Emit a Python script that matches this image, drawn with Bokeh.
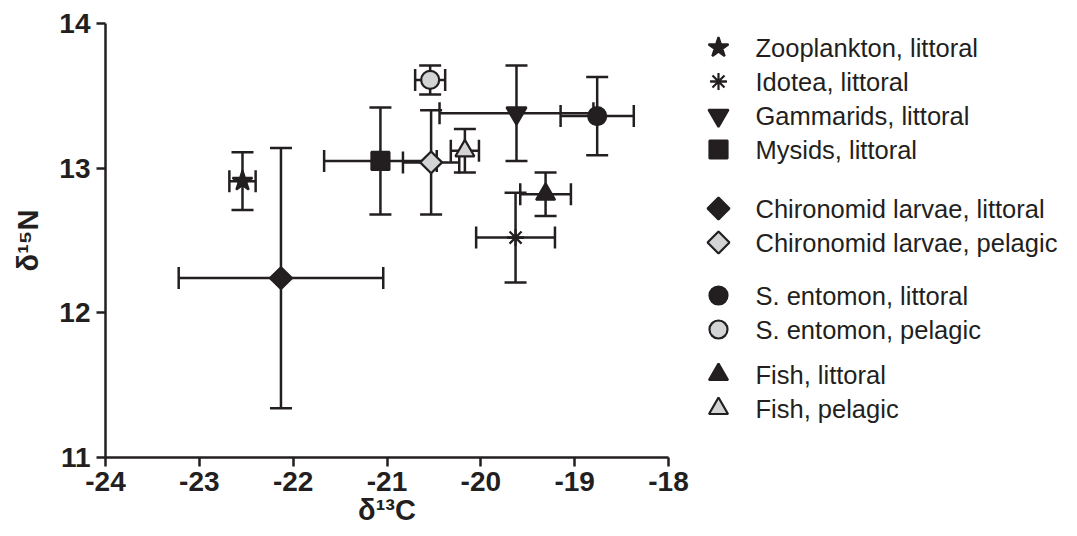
import math
from bokeh.plotting import figure
from bokeh.models import ColumnDataSource, Whisker, TeeHead, Range1d, FixedTicker
from bokeh.layouts import row
from bokeh.embed import file_html
from bokeh.resources import INLINE
from bokeh.core.properties import value

# ---------------- data ----------------
names = ["Zooplankton, littoral", "Idotea, littoral", "Gammarids, littoral", "Mysids, littoral",
         "Chironomid larvae, littoral", "Chironomid larvae, pelagic",
         "S. entomon, littoral", "S. entomon, pelagic",
         "Fish, littoral", "Fish, pelagic"]
legend_group = [0, 0, 0, 0, 1, 1, 2, 2, 3, 3]
d13c = [-22.54, -19.63, -19.62, -21.07, -22.13, -20.53, -18.76, -20.54, -19.31, -20.17]
d13c_err = [0.14, 0.42, 0.82, 0.60, 1.09, 0.30, 0.39, 0.16, 0.27, 0.15]
d15n = [12.91, 12.52, 13.38, 13.05, 12.24, 13.04, 13.36, 13.61, 12.82, 13.12]
d15n_err = [0.20, 0.31, 0.33, 0.37, 0.90, 0.36, 0.27, 0.10, 0.15, 0.15]
x_ticks = [-24, -23, -22, -21, -20, -19, -18]
x_tick_labels = ["-24", "-23", "-22", "-21", "-20", "-19", "-18"]
y_ticks = [11, 12, 13, 14]
y_tick_labels = ["11", "12", "13", "14"]
x_title = "δ¹³C"
y_title = "δ¹⁵N"

# ---------------- styles ----------------
INK = "#231f20"
GREY = "#d3d4d5"
markers = ["star", "asterisk", "inverted_triangle", "square", "square", "square",
           "circle", "circle", "triangle", "triangle"]
fills = [INK, INK, INK, INK, INK, GREY, INK, GREY, INK, GREY]
sizes = [21, 17, 20, 18, 15.5, 15.5, 18, 18, 19, 19]
angles = [0, 0, 0, 0, math.pi / 4, math.pi / 4, 0, 0, 0, 0]
FONT = "Liberation Sans"


def draw_marker(fig, x, y, k):
    if markers[k] == "asterisk":
        fig.scatter([x], [y], marker="asterisk", size=sizes[k], line_color=INK, line_width=2.2)
        fig.scatter([x], [y], marker="dash", size=sizes[k] * 0.95, line_color=INK, line_width=2.2)
    else:
        fig.scatter([x], [y], marker=markers[k], size=sizes[k], angle=angles[k],
                    fill_color=fills[k], line_color=INK, line_width=2.2)


# ---------------- main plot ----------------
# frame: page x 105..668, page y 23..457
p = figure(width=690, height=536, x_range=Range1d(-24, -18), y_range=Range1d(11, 14),
           toolbar_location=None, output_backend="svg",
           min_border_left=105, min_border_right=22, min_border_top=23, min_border_bottom=79)
p.outline_line_color = None
p.grid.visible = False

src = ColumnDataSource(dict(
    x=d13c, y=d15n,
    xl=[a - b for a, b in zip(d13c, d13c_err)], xu=[a + b for a, b in zip(d13c, d13c_err)],
    yl=[a - b for a, b in zip(d15n, d15n_err)], yu=[a + b for a, b in zip(d15n, d15n_err)],
))


def tee():
    return TeeHead(size=22, line_width=2.5, line_color=INK)


wy = Whisker(source=src, base="x", lower="yl", upper="yu", dimension="height",
             line_width=2.5, line_color=INK, upper_head=tee(), lower_head=tee(), level="underlay")
wx = Whisker(source=src, base="y", lower="xl", upper="xu", dimension="width",
             line_width=2.5, line_color=INK, upper_head=tee(), lower_head=tee(), level="underlay")
p.add_layout(wy)
p.add_layout(wx)

for k in range(len(names)):
    draw_marker(p, d13c[k], d15n[k], k)

p.xaxis.ticker = FixedTicker(ticks=x_ticks)
p.yaxis.ticker = FixedTicker(ticks=y_ticks)
p.xaxis.major_label_overrides = {t: l for t, l in zip(x_ticks, x_tick_labels)}
p.yaxis.major_label_overrides = {t: l for t, l in zip(y_ticks, y_tick_labels)}
for ax in (p.xaxis[0], p.yaxis[0]):
    ax.axis_line_width = 2.5
    ax.axis_line_color = INK
    ax.major_tick_line_width = 2.5
    ax.major_tick_line_color = INK
    ax.major_tick_out = 9
    ax.major_tick_in = 0
    ax.minor_tick_out = 0
    ax.minor_tick_in = 0
    ax.major_label_text_font = FONT
    ax.major_label_text_font_size = "28px"
    ax.major_label_text_font_style = "bold"
    ax.major_label_text_color = INK
    ax.axis_label_text_font = FONT
    ax.axis_label_text_font_size = "29px"
    ax.axis_label_text_font_style = "bold"
    ax.axis_label_text_color = INK
p.xaxis.major_label_standoff = 5
p.yaxis.major_label_standoff = 6
p.xaxis.axis_label = x_title
p.yaxis.axis_label = y_title
p.xaxis.axis_label_standoff = 0
p.yaxis.axis_label_standoff = 12

# ---------------- legend panel ----------------
LW, LH = 387, 536
leg = figure(width=LW, height=LH, x_range=Range1d(0, LW), y_range=Range1d(457, 23),
             toolbar_location=None, output_backend="svg", x_axis_type=None, y_axis_type=None,
             min_border_left=0, min_border_right=0, min_border_top=23, min_border_bottom=79)
leg.outline_line_color = None
leg.grid.visible = False

group_top = [47, 208, 295, 374]
row_pitch = 34
mark_x, text_x = 28, 65
first_in_group = {g: legend_group.index(g) for g in set(legend_group)}
row_y = [group_top[g] + row_pitch * (i - first_in_group[g]) for i, g in enumerate(legend_group)]
for k in range(len(names)):
    draw_marker(leg, mark_x, row_y[k], k)
leg.text(x=[text_x] * len(names), y=row_y, text=names, text_font=value(FONT),
         text_font_size="25.5px", text_baseline="middle", text_align="left", text_color=INK)

layout = row(p, leg)
open("out.html", "w").write(file_html(layout, INLINE))
